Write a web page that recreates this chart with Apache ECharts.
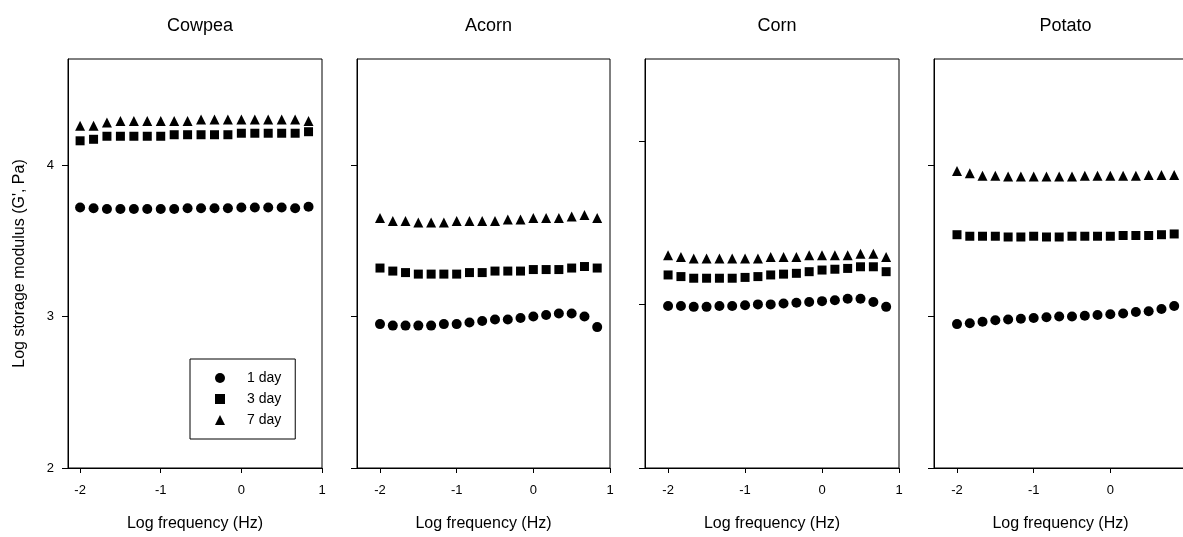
<!DOCTYPE html>
<html>
<head>
<meta charset="utf-8">
<script src="https://cdn.jsdelivr.net/npm/echarts@6/dist/echarts.min.js"></script>
<style>
  html, body { margin: 0; padding: 0; background: #fff; }
  #chart { width: 1183px; height: 537px; }
</style>
</head>
<body>
<div id="chart"></div>
<script>
// log frequency (Hz), same 18 points in every panel
const freq = [-2, -1.833, -1.667, -1.5, -1.333, -1.167, -1, -0.833, -0.667, -0.5,
  -0.333, -0.167, 0, 0.167, 0.333, 0.5, 0.667, 0.833];

const panelNames = ['Cowpea', 'Acorn', 'Corn', 'Potato'];
const dayNames = ['1 day', '3 day', '7 day'];

const cowpea1 = [3.72, 3.715, 3.71, 3.71, 3.71, 3.71, 3.71, 3.71, 3.715, 3.715, 3.715, 3.715, 3.72, 3.72, 3.72, 3.72, 3.715, 3.725];
const cowpea3 = [4.16, 4.17, 4.19, 4.19, 4.19, 4.19, 4.19, 4.20, 4.20, 4.20, 4.20, 4.20, 4.21, 4.21, 4.21, 4.21, 4.21, 4.22];
const cowpea7 = [4.26, 4.26, 4.28, 4.29, 4.29, 4.29, 4.29, 4.29, 4.29, 4.30, 4.30, 4.30, 4.30, 4.30, 4.30, 4.30, 4.30, 4.29];

const acorn1 = [2.95, 2.94, 2.94, 2.94, 2.94, 2.95, 2.95, 2.96, 2.97, 2.98, 2.98, 2.99, 3.00, 3.01, 3.02, 3.02, 3.00, 2.93];
const acorn3 = [3.32, 3.30, 3.29, 3.28, 3.28, 3.28, 3.28, 3.29, 3.29, 3.30, 3.30, 3.30, 3.31, 3.31, 3.31, 3.32, 3.33, 3.32];
const acorn7 = [3.65, 3.63, 3.63, 3.62, 3.62, 3.62, 3.63, 3.63, 3.63, 3.63, 3.64, 3.64, 3.65, 3.65, 3.65, 3.66, 3.67, 3.65];

const corn1 = [2.99, 2.99, 2.985, 2.985, 2.99, 2.99, 2.995, 3.00, 3.00, 3.005, 3.01, 3.015, 3.02, 3.025, 3.035, 3.035, 3.015, 2.985];
const corn3 = [3.18, 3.17, 3.16, 3.16, 3.16, 3.16, 3.165, 3.17, 3.18, 3.185, 3.19, 3.20, 3.21, 3.215, 3.22, 3.23, 3.23, 3.20];
const corn7 = [3.30, 3.29, 3.28, 3.28, 3.28, 3.28, 3.28, 3.28, 3.29, 3.29, 3.29, 3.30, 3.30, 3.30, 3.30, 3.31, 3.31, 3.29];

const potato1 = [2.95, 2.955, 2.965, 2.975, 2.98, 2.985, 2.99, 2.995, 3.00, 3.00, 3.005, 3.01, 3.015, 3.02, 3.03, 3.035, 3.05, 3.07];
const potato3 = [3.54, 3.53, 3.53, 3.53, 3.525, 3.525, 3.53, 3.525, 3.525, 3.53, 3.53, 3.53, 3.53, 3.535, 3.535, 3.535, 3.54, 3.545];
const potato7 = [3.96, 3.945, 3.93, 3.93, 3.925, 3.925, 3.925, 3.925, 3.925, 3.925, 3.93, 3.93, 3.93, 3.93, 3.93, 3.935, 3.935, 3.935];

const xTicks = [-2, -1, 0, 1];
const yTicks = [2, 3, 4];

const panelData = [
  [cowpea1, cowpea3, cowpea7],
  [acorn1, acorn3, acorn7],
  [corn1, corn3, corn7],
  [potato1, potato3, potato7]
];

// layout
const gridLeft = [68, 357, 645, 934];
const gridWidth = [254, 253, 254, 253];
const xMin = [-2.15, -2.3, -2.3, -2.3];
const yMax = [4.7, 4.7, 4.5, 4.7];
const symbols = ['circle', 'rect', 'triangle'];
const symbolSizes = [10, 9, 10];

const font = '"Liberation Sans", Arial, sans-serif';
const chart = echarts.init(document.getElementById('chart'));

const grids = [], xAxes = [], yAxes = [], titles = [], series = [];
panelNames.forEach((name, p) => {
  grids.push({
    left: gridLeft[p], top: 59, width: gridWidth[p], height: 409,
    outerBoundsMode: 'none', containLabel: false,
    show: true, borderColor: '#000', borderWidth: 1, backgroundColor: '#fff'
  });
  titles.push({
    text: name, left: gridLeft[p] + gridWidth[p] / 2, top: 12, textAlign: 'center',
    textStyle: { fontFamily: font, fontSize: 18, fontWeight: 'normal', color: '#000' }
  });
  xAxes.push({
    type: 'value', gridIndex: p, min: xMin[p], max: 1,
    name: 'Log frequency (Hz)', nameLocation: 'middle', nameGap: 48,
    nameTextStyle: { fontFamily: font, fontSize: 16, color: '#000' },
    axisLine: { onZero: false, lineStyle: { color: '#000', width: 1 } },
    axisTick: { customValues: xTicks, length: 5, lineStyle: { color: '#000' } },
    axisLabel: { customValues: xTicks, margin: 16, fontFamily: font, fontSize: 13, color: '#000' },
    splitLine: { show: false }
  });
  yAxes.push({
    type: 'value', gridIndex: p, min: 2, max: yMax[p],
    name: p === 0 ? "Log storage modulus (G', Pa)" : '',
    nameLocation: 'middle', nameGap: 40, nameRotate: 90,
    nameTextStyle: { fontFamily: font, fontSize: 16, color: '#000' },
    axisLine: { onZero: false, lineStyle: { color: '#000', width: 1 } },
    axisTick: { customValues: yTicks, length: 6, lineStyle: { color: '#000' } },
    axisLabel: { show: p === 0, customValues: yTicks, margin: 14, fontFamily: font, fontSize: 13, color: '#000' },
    splitLine: { show: false }
  });
  panelData[p].forEach((vals, d) => {
    series.push({
      type: 'scatter', name: dayNames[d], xAxisIndex: p, yAxisIndex: p,
      symbol: symbols[d], symbolSize: symbolSizes[d],
      itemStyle: { color: '#000', opacity: 1 },
      data: freq.map((x, i) => [x, vals[i]])
    });
  });
});

chart.setOption({
  animation: false,
  backgroundColor: '#fff',
  title: titles,
  grid: grids,
  xAxis: xAxes,
  yAxis: yAxes,
  legend: {
    data: dayNames.map((n, d) => ({ name: n, icon: symbols[d] })),
    orient: 'vertical', left: 190, top: 359,
    backgroundColor: '#fff', borderColor: '#000', borderWidth: 1,
    padding: [12, 14, 12, 25], itemWidth: 10, itemHeight: 10, itemGap: 7,
    selectedMode: false,
    textStyle: { fontFamily: font, fontSize: 14, color: '#000', padding: [0, 0, 0, 17], lineHeight: 14 }
  },
  series: series
});
</script>
</body>
</html>
